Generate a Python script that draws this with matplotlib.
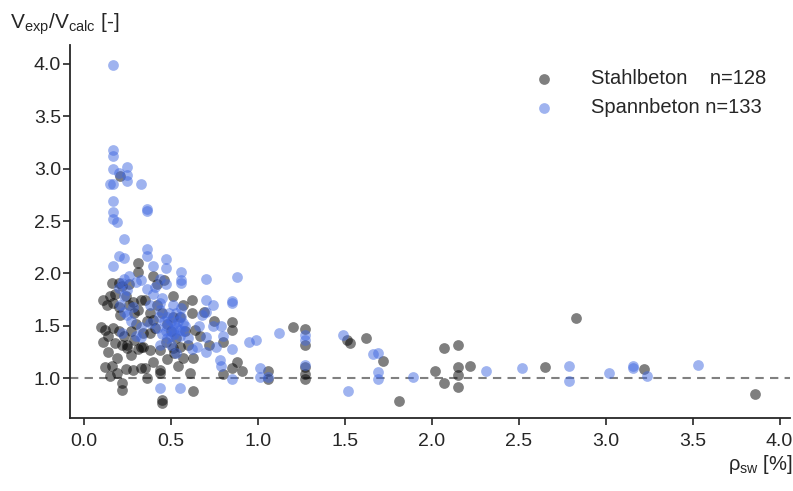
import numpy as np
import matplotlib as mpl
mpl.use('Agg')
import matplotlib.pyplot as plt

mpl.rcParams['font.family'] = ['Liberation Sans', 'DejaVu Sans']
mpl.rcParams['mathtext.fontset'] = 'custom'
mpl.rcParams['mathtext.rm'] = 'Liberation Sans'
mpl.rcParams['mathtext.it'] = 'Liberation Sans'
mpl.rcParams['font.size'] = 14

# Stahlbeton: rho_sw [%], V_exp/V_calc [-]
stahl_rho = [0.85, 0.85, 0.80, 0.88, 0.85, 0.91, 0.80, 1.06, 1.06, 1.20, 1.27, 1.27, 1.27, 1.27, 1.27,
             1.51, 1.53, 1.62, 1.72, 1.81, 2.02, 2.07, 2.07, 2.15, 2.15, 2.15, 2.15, 2.22, 2.65, 2.83, 3.22, 3.86,
             0.69,
             0.31, 0.16, 0.20, 0.22, 0.11, 0.17, 0.20, 0.28, 0.21, 0.10, 0.12, 0.11, 0.17, 0.18, 0.22,
             0.25, 0.25, 0.14, 0.19, 0.12, 0.16, 0.24, 0.33, 0.33, 0.22, 0.22, 0.31, 0.33, 0.31,
             0.35, 0.51, 0.62, 0.62, 0.55, 0.51, 0.40, 0.64, 0.34, 0.38, 0.34, 0.38, 0.44, 0.51, 0.52,
             0.57, 0.63, 0.35, 0.44, 0.44, 0.61, 0.63, 0.45, 0.45,
             0.36, 0.21,
             0.13, 0.15, 0.18, 0.24, 0.26, 0.29, 0.30, 0.27, 0.29, 0.31, 0.14, 0.20, 0.23, 0.27, 0.15,
             0.19, 0.28, 0.38, 0.42, 0.45, 0.48, 0.50, 0.53, 0.47, 0.41, 0.36, 0.58, 0.60, 0.55, 0.48,
             0.40, 0.54, 0.67, 0.72, 0.75, 0.42, 0.46, 0.26, 0.40, 0.57]
stahl_v = [1.54, 1.46, 1.35, 1.15, 1.10, 1.07, 1.04, 1.07, 0.99, 1.49, 1.47, 1.32, 1.11, 1.04, 0.99,
           1.36, 1.34, 1.38, 1.16, 0.78, 1.07, 1.29, 0.95, 1.32, 1.11, 1.03, 0.92, 1.12, 1.11, 1.57, 1.09, 0.85,
           1.63,
           2.10, 1.91, 1.91, 1.88, 1.75, 1.72, 1.68, 1.73, 1.60, 1.49, 1.46, 1.35, 1.48, 1.34, 1.32,
           1.32, 1.29, 1.25, 1.19, 1.11, 1.12, 1.09, 1.30, 1.10, 0.95, 0.89, 2.01, 1.75, 1.65,
           1.75, 1.78, 1.75, 1.62, 1.58, 1.58, 1.56, 1.46, 1.43, 1.43, 1.30, 1.27, 1.27, 1.29, 1.24,
           1.19, 1.19, 1.10, 1.08, 1.05, 1.05, 0.88, 0.79, 0.76,
           1.00, 2.93,
           1.70, 1.78, 1.80, 1.78, 1.70, 1.62, 1.52, 1.45, 1.36, 1.28, 1.40, 1.45, 1.40, 1.22, 1.02,
           1.05, 1.08, 1.62, 1.70, 1.62, 1.52, 1.45, 1.38, 1.35, 1.48, 1.55, 1.45, 1.32, 1.30, 1.18,
           1.15, 1.12, 1.40, 1.32, 1.55, 1.90, 1.94, 1.90, 1.98, 1.70]

# Spannbeton
spann_rho = [0.85, 0.85, 0.74, 0.79, 0.80, 0.85, 0.95, 0.99, 1.12, 0.78, 0.79, 0.85, 1.01, 1.01, 1.06,
             1.27, 1.27, 1.27,
             1.49, 1.66, 1.69, 1.69, 1.69, 1.52, 1.89, 2.31, 2.52, 2.79, 2.79,
             3.02, 3.16, 3.16, 3.24, 3.53,
             0.88, 0.70,
             0.23, 0.20, 0.23, 0.17, 0.23, 0.22, 0.20, 0.25, 0.23, 0.23, 0.25, 0.22, 0.30, 0.33, 0.33, 0.33,
             0.36, 0.36, 0.47, 0.40, 0.56, 0.56, 0.44, 0.47, 0.70, 0.41, 0.45, 0.51, 0.70, 0.56, 0.44,
             0.48, 0.53, 0.55, 0.57, 0.51, 0.70, 0.38, 0.65, 0.44, 0.48, 0.53, 0.70, 0.44, 0.55,
             0.17, 0.17, 0.17, 0.17, 0.25, 0.20, 0.25, 0.15, 0.17, 0.25, 0.33, 0.17, 0.17, 0.17, 0.19,
             0.36, 0.36, 0.47, 0.56,
             0.46, 0.48, 0.50, 0.52, 0.54, 0.50, 0.52, 0.55, 0.57, 0.58, 0.56, 0.53, 0.47, 0.45, 0.43,
             0.42, 0.38, 0.40, 0.36, 0.28, 0.27, 0.30, 0.26, 0.60, 0.62, 0.66, 0.68, 0.74, 0.76, 0.50,
             0.49, 0.44, 0.21]
spann_v = [1.72, 1.74, 1.50, 1.50, 1.40, 1.28, 1.35, 1.36, 1.43, 1.17, 1.12, 0.99, 1.10, 1.01, 1.01,
           1.41, 1.36, 1.13,
           1.41, 1.23, 1.24, 1.06, 0.99, 0.88, 1.01, 1.07, 1.10, 1.12, 0.97,
           1.05, 1.12, 1.10, 1.02, 1.13,
           1.97, 1.63,
           2.33, 2.17, 2.15, 2.07, 1.95, 1.91, 1.86, 1.84, 1.78, 1.63, 1.60, 1.43, 1.92, 1.94, 1.49, 1.39,
           2.23, 2.17, 2.14, 2.07, 2.01, 1.94, 1.95, 1.90, 1.95, 1.87, 1.77, 1.70, 1.75, 1.67, 1.65,
           1.58, 1.49, 1.46, 1.53, 1.46, 1.39, 1.53, 1.30, 1.32, 1.38, 1.24, 1.25, 0.91, 0.91,
           3.99, 3.18, 3.12, 3.00, 3.02, 2.96, 2.94, 2.85, 2.85, 2.88, 2.85, 2.69, 2.59, 2.52, 2.49,
           2.60, 2.61, 2.05, 1.91,
           1.55, 1.50, 1.55, 1.52, 1.55, 1.40, 1.42, 1.40, 1.45, 1.50, 1.58, 1.62, 1.45, 1.42, 1.58,
           1.48, 1.70, 1.80, 1.85, 1.68, 1.55, 1.40, 1.98, 1.38, 1.28, 1.50, 1.60, 1.70, 1.30, 1.32,
           1.62, 1.72, 1.70]

fig = plt.figure(figsize=(7.93, 4.91), dpi=100)
ax = fig.add_axes([70 / 793, 1 - 418 / 491, 720 / 793, 373 / 491])

ax.scatter(stahl_rho, stahl_v, s=60, color='black', alpha=0.5, linewidths=0,
           label='Stahlbeton    n=%d' % len(stahl_rho))
ax.scatter(spann_rho, spann_v, s=60, color='royalblue', alpha=0.5, linewidths=0,
           label='Spannbeton n=%d' % len(spann_rho))
ax.axhline(1.0, color='gray', ls='--', lw=1.5, dashes=(4, 3), zorder=0)

ax.set_xlim(-0.08, 4.06)
ax.set_ylim(0.62, 4.18)
ax.set_xticks(np.arange(0, 4.01, 0.5))
ax.set_yticks(np.arange(1, 4.01, 0.5))
ax.xaxis.set_major_formatter(mpl.ticker.FormatStrFormatter('%.1f'))
ax.yaxis.set_major_formatter(mpl.ticker.FormatStrFormatter('%.1f'))
ax.tick_params(direction='out', length=5, width=1.2, colors='#262626', labelsize=14)
ax.tick_params(axis='x', pad=6)
ax.tick_params(axis='y', pad=1.5)
for side in ['top', 'right']:
    ax.spines[side].set_visible(False)
for side in ['left', 'bottom']:
    ax.spines[side].set_linewidth(1.3)
    ax.spines[side].set_color('#262626')

ax.set_ylabel(r'$\mathrm{V_{exp}/V_{calc}}$ [-]', rotation=0, ha='left', va='center',
              fontsize=15, color='#262626')
ax.yaxis.set_label_coords(-0.083, 1.055)
ax.set_xlabel(r'$\mathrm{ρ_{sw}}$ [%]', ha='right', fontsize=14.5, color='#262626')
ax.xaxis.set_label_coords(1.004, -0.095)

leg = ax.legend(loc='upper right', frameon=False, fontsize=14.5, handletextpad=1.3,
                markerscale=1.0, borderaxespad=0.9, borderpad=0.3, labelspacing=0.5)
for t in leg.get_texts():
    t.set_color('#262626')

fig.savefig('out.png', dpi=100)
